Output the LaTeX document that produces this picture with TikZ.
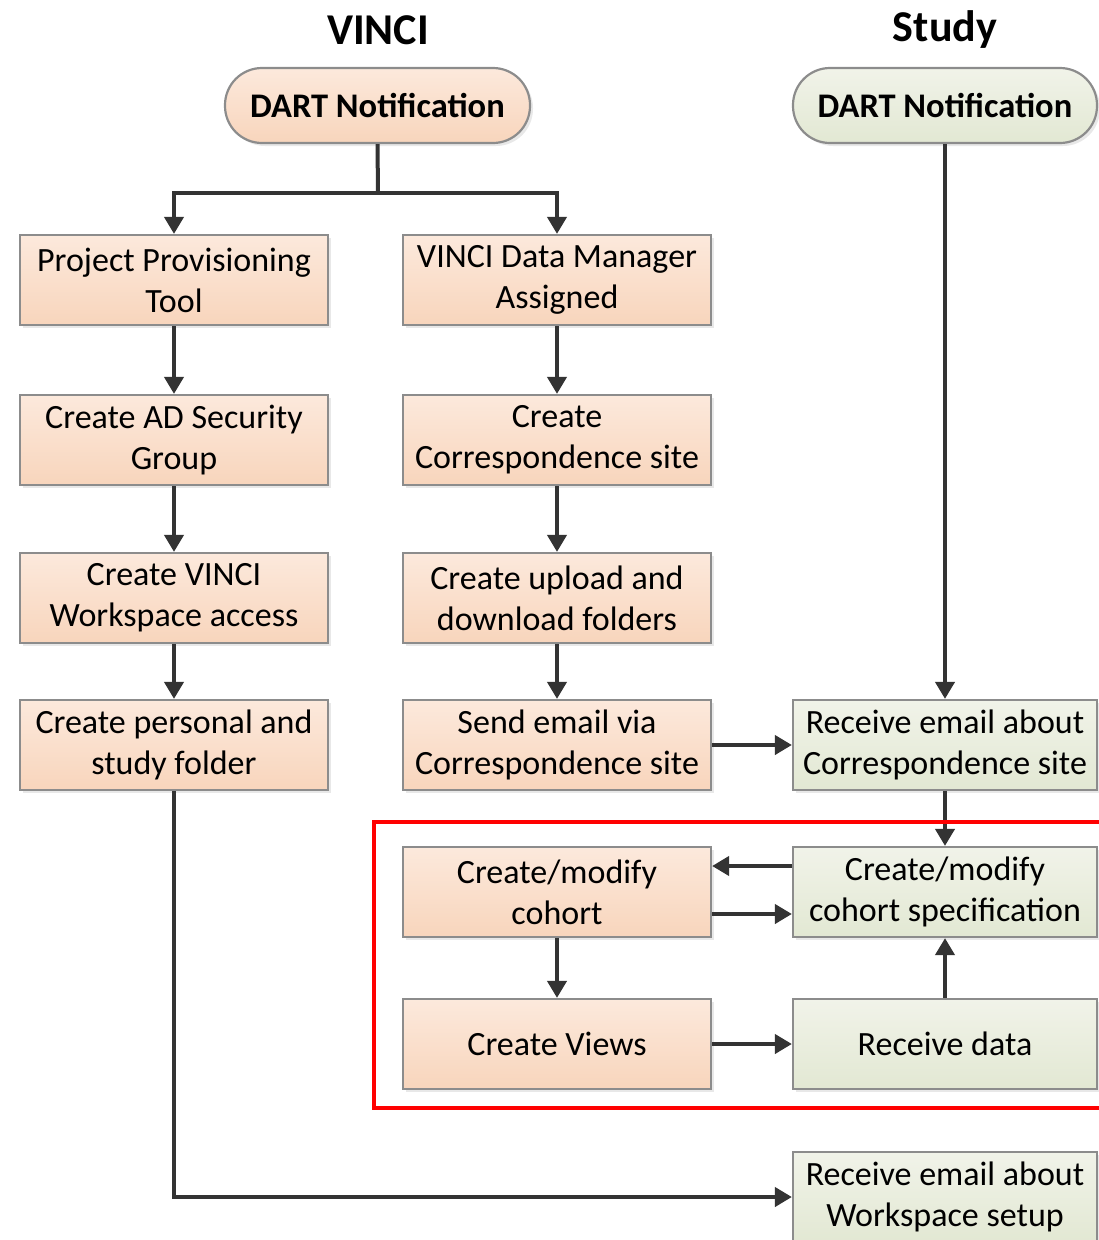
\documentclass[tikz,border=0pt]{standalone}
\usepackage{fontspec}
\setmainfont{Carlito}
\usetikzlibrary{arrows.meta,shadows}
\definecolor{otop}{HTML}{FCE9DC}
\definecolor{obot}{HTML}{F8D5BC}
\definecolor{gtop}{HTML}{F1F3E9}
\definecolor{gbot}{HTML}{E2E8D3}
\definecolor{edge}{HTML}{8C8C8C}
\definecolor{arr}{HTML}{333333}
\tikzset{
  base/.style={draw=edge, line width=2.2pt, align=center, inner sep=0pt,
    font=\fontsize{34}{41}\selectfont,
    drop shadow={shadow xshift=3pt, shadow yshift=-3pt, fill=black!18, draw=none}},
  obox/.style={base, rectangle, minimum width=308pt, minimum height=90pt, top color=otop, bottom color=obot},
  gbox/.style={base, rectangle, minimum width=304pt, minimum height=90pt, top color=gtop, bottom color=gbot},
  opill/.style={base, rounded corners=37pt, minimum width=305pt, minimum height=75pt, top color=otop, bottom color=obot, font=\fontsize{34.5}{40}\selectfont\bfseries},
  gpill/.style={base, rounded corners=37pt, minimum width=304pt, minimum height=75pt, top color=gtop, bottom color=gbot, font=\fontsize{34.5}{40}\selectfont\bfseries},
  title/.style={font=\fontsize{44}{48}\selectfont\bfseries, inner sep=0pt},
  flow/.style={draw=arr, line width=4pt, -{Triangle[length=17pt,width=19pt]}},
  flowline/.style={draw=arr, line width=4pt},
}
\begin{document}
\begin{tikzpicture}[x=1pt,y=-1pt]
\useasboundingbox (0,0) rectangle (1099,1240);
\node[title] (tv) at (378,30) {VINCI};
\node[title] (ts) at (945,30) {Study};
\node[opill] (dl) at (377.5,105.5) {DART Notification};
\node[gpill] (dr) at (945,105.5) {DART Notification};

\node[obox] (a1) at (174,280) {Project Provisioning\\Tool};
\node[obox] (a2) at (174,440) {Create AD Security\\Group};
\node[obox] (a3) at (174,598) {Create VINCI\\Workspace access};
\node[obox] (a4) at (174,745) {Create personal and\\study folder};

\node[obox] (b1) at (557,280) {VINCI Data Manager\\Assigned};
\node[obox] (b2) at (557,440) {Create\\Correspondence site};
\node[obox] (b3) at (557,598) {Create upload and\\download folders};
\node[obox] (b4) at (557,745) {Send email via\\Correspondence site};
\node[obox] (b5) at (557,892) {Create/modify\\cohort};
\node[obox] (b6) at (557,1044) {Create Views};

\node[gbox] (c1) at (945,745) {Receive email about\\Correspondence site};
\node[gbox] (c2) at (945,892) {Create/modify\\cohort specification};
\node[gbox] (c3) at (945,1044) {Receive data};
\node[gbox] (c4) at (945,1197) {Receive email about\\Workspace setup};

\coordinate (split) at (378,193);
\draw[flowline] (dl.south) -- (split);
\draw[flow] (split) -| (a1.north);
\draw[flow] (split) -| (b1.north);
\draw[flow] (a1) -- (a2);
\draw[flow] (a2) -- (a3);
\draw[flow] (a3) -- (a4);
\draw[flow] (b1) -- (b2);
\draw[flow] (b2) -- (b3);
\draw[flow] (b3) -- (b4);
\draw[flow] (dr) -- (c1);
\draw[flow] (b4) -- (c1);
\draw[flow] (c1) -- (c2);
\draw[flow] ([yshift=26pt]c2.west) -- ([yshift=26pt]b5.east);
\draw[flow] ([yshift=-22pt]b5.east) -- ([yshift=-22pt]c2.west);
\draw[flow] (b5) -- (b6);
\draw[flow] (b6) -- (c3);
\draw[flow] (c3) -- (c2);
\draw[flow] (a4.south) |- (c4.west);

\draw[red, line width=4pt] (374,822) rectangle (1110,1108);
\end{tikzpicture}
\end{document}
